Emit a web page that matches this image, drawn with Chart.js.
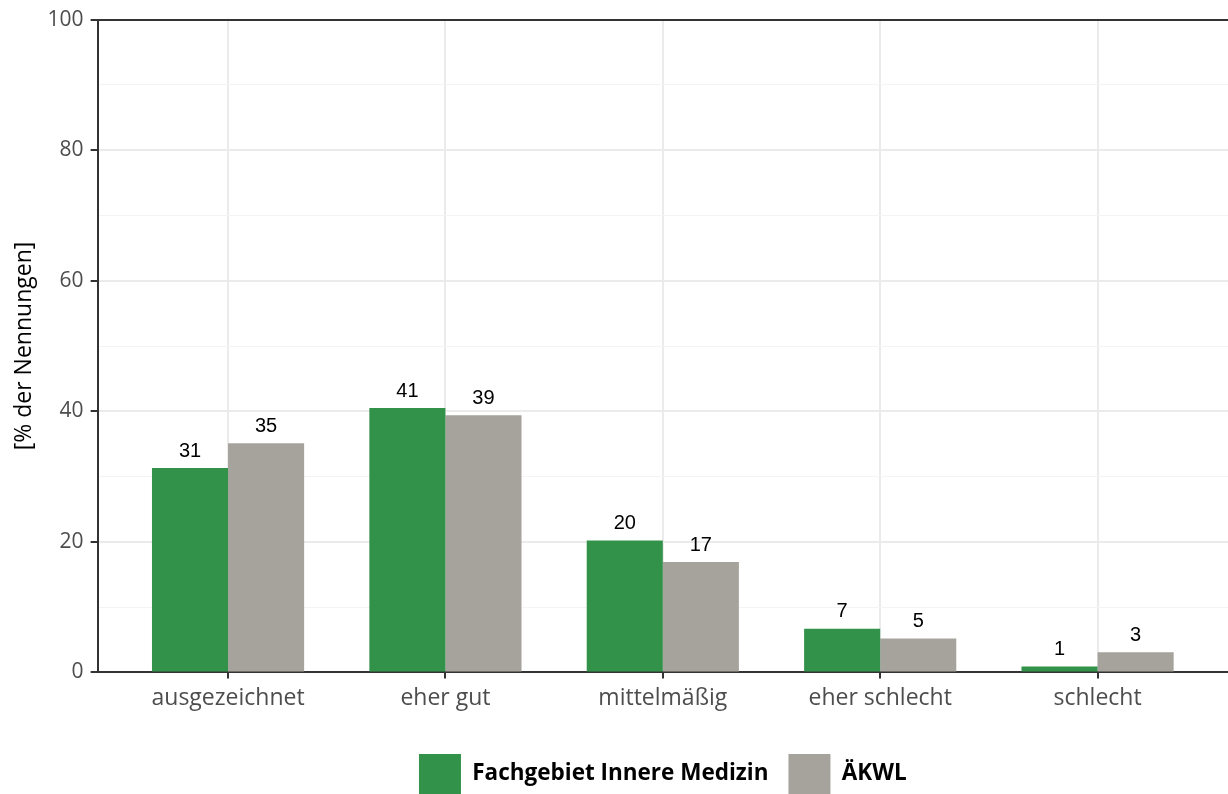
<!DOCTYPE html>
<html>
<head>
<meta charset="utf-8">
<script src="https://cdn.jsdelivr.net/npm/chart.js@4/dist/chart.umd.min.js"></script>
<style>
  html, body { margin: 0; padding: 0; background: #fff; }
  #wrap { width: 1228px; height: 794px; }
</style>
</head>
<body>
<div id="wrap"><canvas id="myChart" width="1228" height="794"></canvas></div>
<script>
const categories = ['ausgezeichnet', 'eher gut', 'mittelmäßig', 'eher schlecht', 'schlecht'];
const innereMedizin = [31.3, 40.5, 20.2, 6.7, 0.9];
const aekwl = [35.1, 39.4, 16.9, 5.2, 3.1];
const seriesNames = ['Fachgebiet Innere Medizin', 'ÄKWL'];
const yTicks = [0, 10, 20, 30, 40, 50, 60, 70, 80, 90, 100];

const green = '#33924a';
const grey = '#a6a39c';

// value labels above the bars
const barLabels = {
    id: 'barLabels',
    afterDatasetsDraw( chart ) {
        const ctx = chart.ctx;
        ctx.save();
        ctx.font = '20px "Liberation Sans", Arial, sans-serif';
        ctx.fillStyle = '#000';
        ctx.textAlign = 'center';
        ctx.textBaseline = 'bottom';
        chart.data.datasets.forEach( ( ds, i ) => {
            chart.getDatasetMeta( i ).data.forEach( ( bar, j ) => {
                ctx.fillText( Math.round( ds.data[j].y ), bar.x, bar.y - 7 );
            });
        });
        ctx.restore();
    }
};

const toPoints = arr => arr.map( ( v, i ) => ({ x: i, y: v }) );

new Chart( document.getElementById('myChart').getContext('2d'), {
    type: 'bar',
    data: {
        datasets: [
            { label: seriesNames[0], data: toPoints( innereMedizin ), backgroundColor: green,
              categoryPercentage: 0.7, barPercentage: 1.0 },
            { label: seriesNames[1], data: toPoints( aekwl ), backgroundColor: grey,
              categoryPercentage: 0.7, barPercentage: 1.0 }
        ]
    },
    options: {
        responsive: false,
        animation: false,
        layout: { padding: { left: 11, right: 0, top: 17, bottom: -10 } },
        plugins: {
            legend: {
                position: 'bottom',
                fullSize: false,
                labels: {
                    boxWidth: 42,
                    boxHeight: 40,
                    padding: 20,
                    color: '#000',
                    font: { family: '"Open Sans"', size: 22.5, weight: 'bold' }
                }
            },
            tooltip: { enabled: false }
        },
        scales: {
            x: {
                type: 'linear',
                min: -0.6,
                max: 4.6,
                offset: false,
                afterBuildTicks: axis => { axis.ticks = categories.map( ( c, i ) => ({ value: i }) ); },
                afterFit: axis => { axis.height += 16; },
                ticks: {
                    callback: v => categories[v],
                    color: '#4d4d4d',
                    font: { family: '"Open Sans"', size: 23 },
                    padding: 6,
                    maxRotation: 0,
                    autoSkip: false
                },
                grid: { offset: false, color: '#ebebeb', lineWidth: 2, tickColor: '#333', tickLength: 6 },
                border: { color: '#333', width: 2 }
            },
            y: {
                min: 0,
                max: 100,
                afterBuildTicks: axis => { axis.ticks = yTicks.map( v => ({ value: v }) ); },
                ticks: {
                    callback: v => ( v % 20 === 0 ? v : '' ),
                    color: '#4d4d4d',
                    font: { family: '"Open Sans"', size: 21 },
                    padding: 7,
                    autoSkip: false
                },
                grid: {
                    color: c => ( c.tick.value === 100 ? '#333' : ( c.tick.value % 20 === 0 ? '#ebebeb' : '#f4f4f4' ) ),
                    lineWidth: c => ( c.tick.value % 20 === 0 ? 2 : 1 ),
                    tickColor: c => ( c.tick.value % 20 === 0 ? '#333' : 'rgba(0,0,0,0)' ),
                    tickLength: 7
                },
                border: { color: '#333', width: 2 },
                title: {
                    display: true,
                    text: '[% der Nennungen]',
                    color: '#000',
                    font: { family: '"Open Sans"', size: 23 },
                    padding: { top: 0, bottom: 2 }
                }
            }
        }
    },
    plugins: [ barLabels ]
});
</script>
</body>
</html>
